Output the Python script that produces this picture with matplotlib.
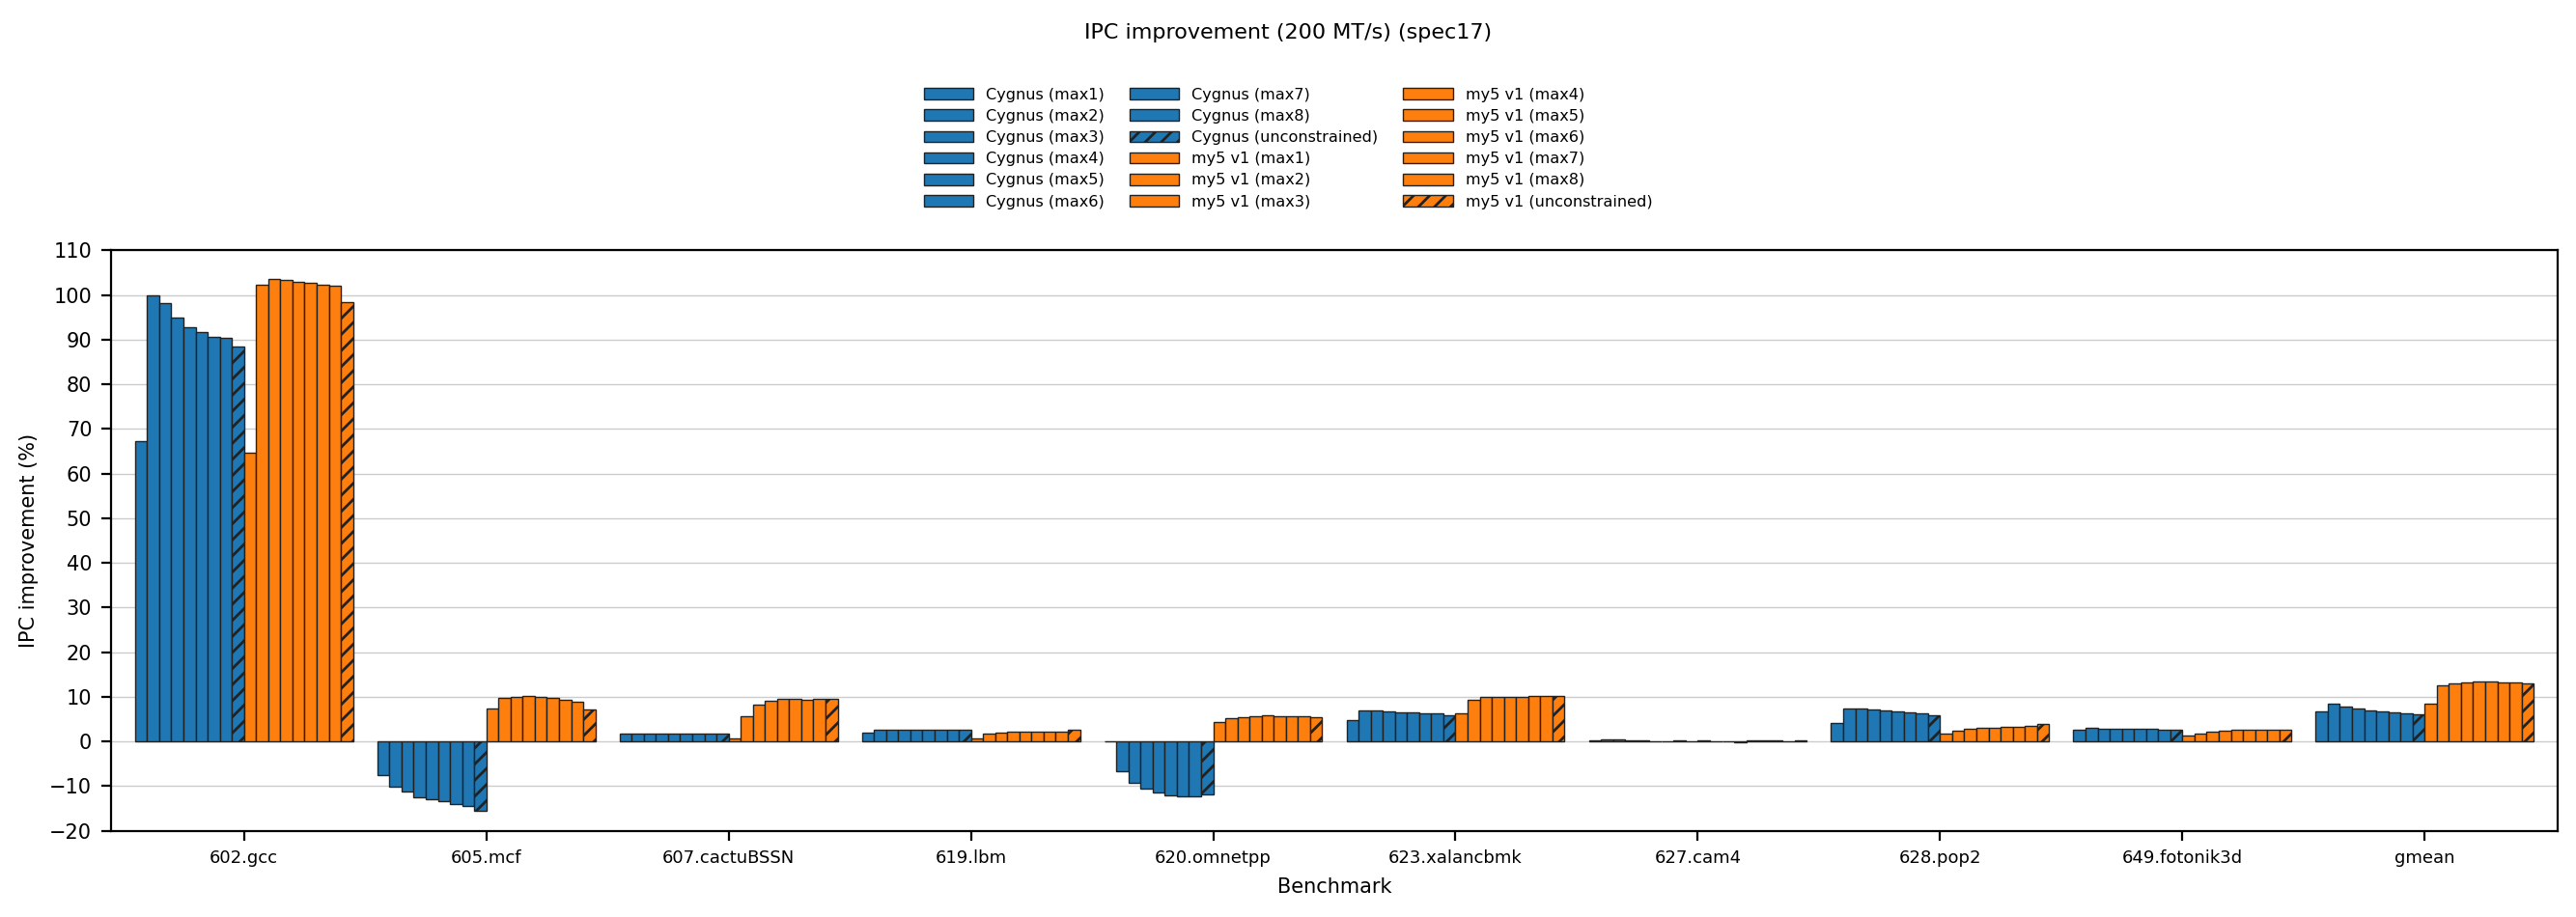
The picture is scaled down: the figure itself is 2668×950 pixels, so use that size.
import numpy as np
import matplotlib
matplotlib.use('Agg')
import matplotlib.pyplot as plt

benchmarks = ['602.gcc', '605.mcf', '607.cactuBSSN', '619.lbm', '620.omnetpp',
              '623.xalancbmk', '627.cam4', '628.pop2', '649.fotonik3d', 'gmean']
configs = ['max1', 'max2', 'max3', 'max4', 'max5', 'max6', 'max7', 'max8', 'unconstrained']

# rows = benchmarks, cols = configs
cygnus = [
    [67.3, 100.0, 98.1, 94.9, 92.7, 91.6, 90.6, 90.4, 88.4],
    [-7.6, -10.1, -11.3, -12.4, -12.9, -13.4, -14.0, -14.4, -15.6],
    [1.7, 1.7, 1.7, 1.7, 1.7, 1.7, 1.7, 1.7, 1.7],
    [1.9, 2.6, 2.6, 2.6, 2.6, 2.6, 2.6, 2.6, 2.6],
    [0.0, -6.7, -9.3, -10.6, -11.5, -12.1, -12.3, -12.3, -11.9],
    [4.7, 6.9, 6.9, 6.7, 6.5, 6.5, 6.3, 6.3, 5.8],
    [0.2, 0.4, 0.4, 0.2, 0.2, 0.0, 0.0, 0.2, 0.0],
    [4.1, 7.3, 7.3, 7.1, 6.9, 6.7, 6.5, 6.3, 5.8],
    [2.6, 3.0, 2.8, 2.8, 2.8, 2.8, 2.8, 2.6, 2.6],
    [6.7, 8.4, 7.8, 7.3, 6.9, 6.7, 6.5, 6.3, 6.0],
]
my5 = [
    [64.6, 102.4, 103.6, 103.4, 103.0, 102.8, 102.4, 102.1, 98.5],
    [7.3, 9.7, 9.9, 10.1, 9.9, 9.7, 9.3, 8.8, 7.1],
    [0.6, 5.6, 8.2, 9.1, 9.5, 9.5, 9.3, 9.5, 9.5],
    [0.6, 1.8, 2.0, 2.2, 2.2, 2.2, 2.2, 2.2, 2.7],
    [4.3, 5.2, 5.4, 5.6, 5.8, 5.6, 5.6, 5.6, 5.4],
    [6.3, 9.3, 9.9, 9.9, 9.9, 9.9, 10.1, 10.1, 10.1],
    [0.2, 0.0, 0.0, -0.2, 0.2, 0.2, 0.2, 0.0, 0.2],
    [1.7, 2.4, 2.8, 3.0, 3.0, 3.2, 3.2, 3.5, 3.9],
    [1.3, 1.7, 2.2, 2.4, 2.6, 2.6, 2.6, 2.6, 2.6],
    [8.4, 12.5, 13.0, 13.2, 13.4, 13.4, 13.2, 13.2, 13.0],
]

plt.rcParams['hatch.linewidth'] = 1.0

series = []
for name, vals, col in [('Cygnus', cygnus, '#1f77b4'), ('my5 v1', my5, '#ff7f0e')]:
    arr = np.array(vals)
    for j, c in enumerate(configs):
        series.append((f'{name} ({c})', arr[:, j], col, '////' if c == 'unconstrained' else None))

fig = plt.figure(figsize=(13.34, 4.75), dpi=200)
ax = fig.add_axes([0.043, 0.094, 0.950, 0.633])

x = np.arange(len(benchmarks))
w = 0.05
n = len(series)
for i, (label, vals, col, hatch) in enumerate(series):
    off = (i - (n - 1) / 2) * w
    ax.bar(x + off, vals, w, color=col, edgecolor='#222222', linewidth=0.5,
           hatch=hatch, label=label, zorder=3)

ax.set_ylim(-20, 110)
ax.set_yticks(range(-20, 111, 10))
ax.set_xlim(-0.55, len(benchmarks) - 0.45)
ax.set_xticks(x)
ax.set_xticklabels(benchmarks, fontsize=6.5)
ax.tick_params(axis='y', labelsize=7.5)
ax.yaxis.grid(True, color='#cccccc', linewidth=0.5, zorder=0)
ax.set_axisbelow(True)
ax.set_xlabel('Benchmark', fontsize=7.5)
ax.set_ylabel('IPC improvement (%)', fontsize=7.5)

fig.suptitle('IPC improvement (200 MT/s) (spec17)', fontsize=8, y=0.975)
fig.legend(loc='upper center', bbox_to_anchor=(0.5, 0.92), ncol=3, fontsize=5.8,
           frameon=False, handlelength=3.2, columnspacing=1.6, labelspacing=0.45)

fig.savefig('out.png', dpi=200)
